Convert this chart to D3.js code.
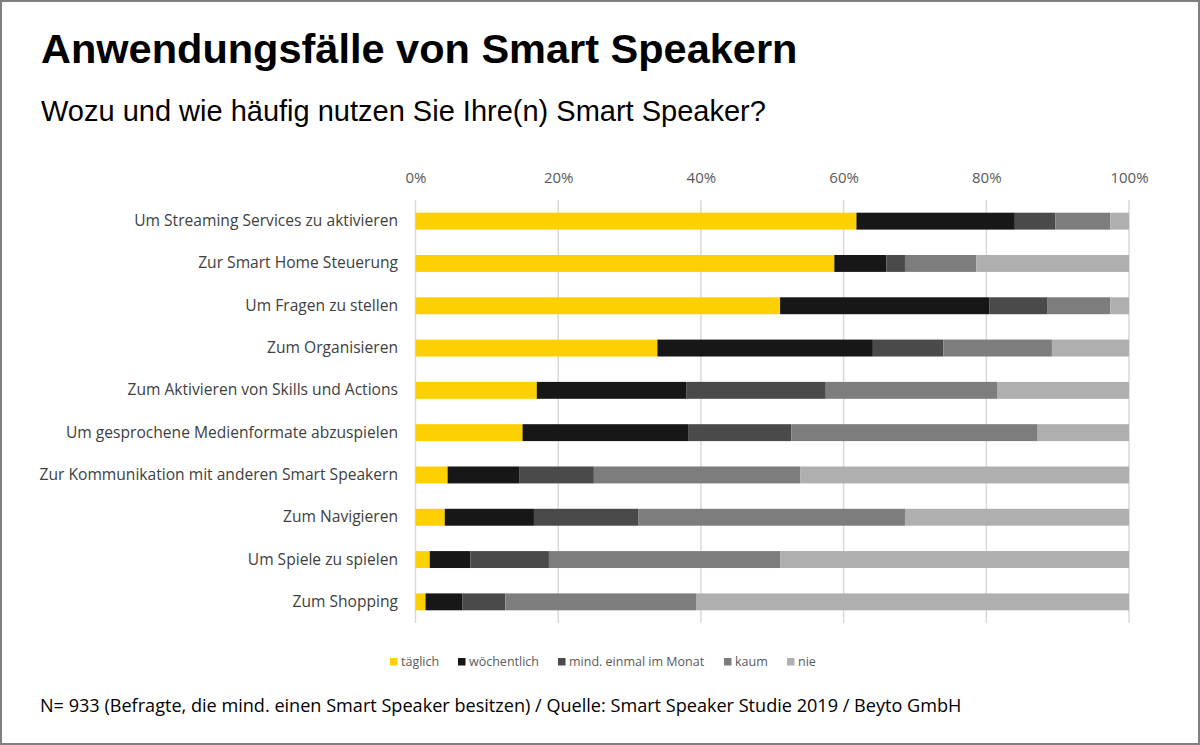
<!DOCTYPE html>
<html><head><meta charset="utf-8">
<script src="https://cdn.jsdelivr.net/npm/d3@7"></script>
<style>
html,body{margin:0;padding:0;background:#fff;}
svg{display:block;}
</style></head>
<body>
<svg id="chart" width="1200" height="745"></svg>
<script>
const categories = [
  "Um Streaming Services zu aktivieren",
  "Zur Smart Home Steuerung",
  "Um Fragen zu stellen",
  "Zum Organisieren",
  "Zum Aktivieren von Skills und Actions",
  "Um gesprochene Medienformate abzuspielen",
  "Zur Kommunikation mit anderen Smart Speakern",
  "Zum Navigieren",
  "Um Spiele zu spielen",
  "Zum Shopping"
];
const seriesNames = ["täglich","wöchentlich","mind. einmal im Monat","kaum","nie"];
const taeglich      = [61.8, 58.7, 51.1, 33.9, 17.0, 15.0, 4.5, 4.1, 2.0, 1.4];
const woechentlich  = [22.2,  7.3, 29.3, 30.2, 21.0, 23.2, 10.1, 12.5, 5.7, 5.2];
const monatlich     = [ 5.7,  2.6,  8.2,  9.9, 19.5, 14.5, 10.4, 14.6, 11.0, 6.0];
const kaum          = [ 7.7, 10.0,  8.8, 15.2, 24.0, 34.5, 28.9, 37.4, 32.4, 26.8];
const nie           = [ 2.6, 21.4,  2.6, 10.8, 18.5, 12.8, 46.1, 31.4, 48.9, 60.6];
const tickValues = [0, 20, 40, 60, 80, 100];
const colors = ["#FFD000","#171717","#4a4a4a","#7d7d7d","#afafaf"];

const title = "Anwendungsfälle von Smart Speakern";
const subtitle = "Wozu und wie häufig nutzen Sie Ihre(n) Smart Speaker?";
const footnote = "N= 933 (Befragte, die mind. einen Smart Speaker besitzen) / Quelle: Smart Speaker Studie 2019 / Beyto GmbH";

const seriesArrays = [taeglich, woechentlich, monatlich, kaum, nie];
const rows = categories.map((c, i) => {
  const r = {cat: c};
  seriesNames.forEach((s, j) => r[s] = seriesArrays[j][i]);
  return r;
});

const svg = d3.select("#chart");
const W = 1200, H = 745;
svg.append("rect").attr("x",1).attr("y",1).attr("width",W-2).attr("height",H-2)
  .attr("fill","#fff").attr("stroke","#808080").attr("stroke-width",2);

const sansLabel = "'Open Sans','Noto Sans',sans-serif";

svg.append("text").attr("x",41).attr("y",63)
  .attr("font-family","'Liberation Sans',Arial,sans-serif").attr("font-weight","bold")
  .attr("font-size",41.5).attr("fill","#000").text(title);
svg.append("text").attr("x",41).attr("y",121)
  .attr("font-family","'Liberation Sans',Arial,sans-serif")
  .attr("font-size",29).attr("fill","#000").text(subtitle);

const x = d3.scaleLinear().domain([0,100]).range([415.5,1129]);
const y = d3.scaleBand().domain(categories).range([200,623]).paddingInner(0.6).paddingOuter(0.3);

// gridlines
svg.append("g").selectAll("line").data(tickValues).join("line")
  .attr("x1",d=>x(d)).attr("x2",d=>x(d)).attr("y1",200).attr("y2",623)
  .attr("stroke","#d9d9d9").attr("stroke-width",1.5);

// top axis labels
const xAxis = d3.axisTop(x).tickValues(tickValues).tickFormat(d=>d+"%").tickSize(0).tickPadding(0);
const gx = svg.append("g").attr("transform","translate(0,183)").call(xAxis);
gx.select(".domain").remove();
gx.selectAll("text").attr("font-family",sansLabel).attr("font-size",15)
  .attr("fill","#595959").attr("dy",0);

// stacked bars
const stack = d3.stack().keys(seriesNames);
const stacked = stack(rows);
svg.append("g").selectAll("g").data(stacked).join("g")
  .attr("fill",(d,i)=>colors[i])
  .selectAll("rect").data(d=>d).join("rect")
  .attr("x",d=>x(d[0])).attr("width",d=>x(d[1])-x(d[0]))
  .attr("y",d=>y(d.data.cat)).attr("height",y.bandwidth());

// category labels
const yAxis = d3.axisLeft(y).tickSize(0).tickPadding(0);
const gy = svg.append("g").attr("transform","translate(398,0)").call(yAxis);
gy.select(".domain").remove();
gy.selectAll("text").attr("font-family",sansLabel).attr("font-size",15.6)
  .attr("fill","#404040");

// legend
const legendX = [390, 458, 558, 724, 787];
const lg = svg.append("g").selectAll("g").data(seriesNames).join("g")
  .attr("transform",(d,i)=>`translate(${legendX[i]},658)`);
lg.append("rect").attr("width",7.5).attr("height",7.5).attr("fill",(d,i)=>colors[i]);
lg.append("text").attr("x",11).attr("y",8).attr("font-family",sansLabel)
  .attr("font-size",12.5).attr("fill","#595959").text(d=>d);

svg.append("text").attr("x",40).attr("y",712).attr("font-family",sansLabel)
  .attr("font-size",18.1).attr("fill","#000").text(footnote);
</script>
</body></html>
